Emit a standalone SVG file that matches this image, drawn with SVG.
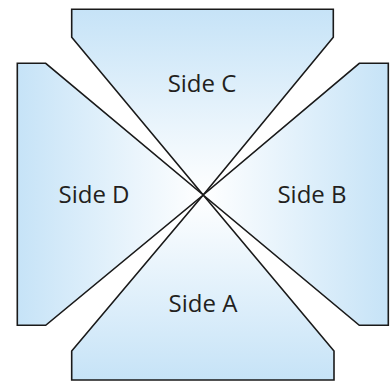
<svg xmlns="http://www.w3.org/2000/svg" width="391" height="382" viewBox="0 0 391 382">
<defs>
<linearGradient id="gC" x1="0" y1="0" x2="0" y2="1"><stop offset="0" stop-color="#c6e3f7"/><stop offset="1" stop-color="#ffffff"/></linearGradient>
<linearGradient id="gA" x1="0" y1="1" x2="0" y2="0"><stop offset="0" stop-color="#c6e3f7"/><stop offset="1" stop-color="#ffffff"/></linearGradient>
<linearGradient id="gD" x1="0" y1="0" x2="1" y2="0"><stop offset="0" stop-color="#c6e3f7"/><stop offset="1" stop-color="#ffffff"/></linearGradient>
<linearGradient id="gB" x1="1" y1="0" x2="0" y2="0"><stop offset="0" stop-color="#c6e3f7"/><stop offset="1" stop-color="#ffffff"/></linearGradient>
<style>
.side{stroke:#1a1a1a;stroke-width:1.6;stroke-linejoin:miter}
.lbl{font-family:"Open Sans","Noto Sans",sans-serif;font-size:24px;fill:#231f20;text-anchor:middle}
</style>
</defs>
<g id="sideC">
<polygon class="side" fill="url(#gC)" points="71.7,9.3 333.3,9.3 333.3,37.3 203.2,195 71.7,37.3"/>
<text class="lbl" x="202" y="92">Side C</text>
</g>
<g id="sideA">
<polygon class="side" fill="url(#gA)" points="71.7,380 334,380 334,351 203.2,195 71.7,351"/>
<text class="lbl" x="203" y="312">Side A</text>
</g>
<g id="sideD">
<polygon class="side" fill="url(#gD)" points="17.3,63.3 45.7,63.3 203.2,195 45.7,325.3 17.3,325.3"/>
<text class="lbl" x="94" y="203">Side D</text>
</g>
<g id="sideB">
<polygon class="side" fill="url(#gB)" points="388.3,63.3 359.3,63.3 203.2,195 359.3,325.3 388.3,325.3"/>
<text class="lbl" x="312" y="203">Side B</text>
</g>
<g id="connectors"/>
</svg>
